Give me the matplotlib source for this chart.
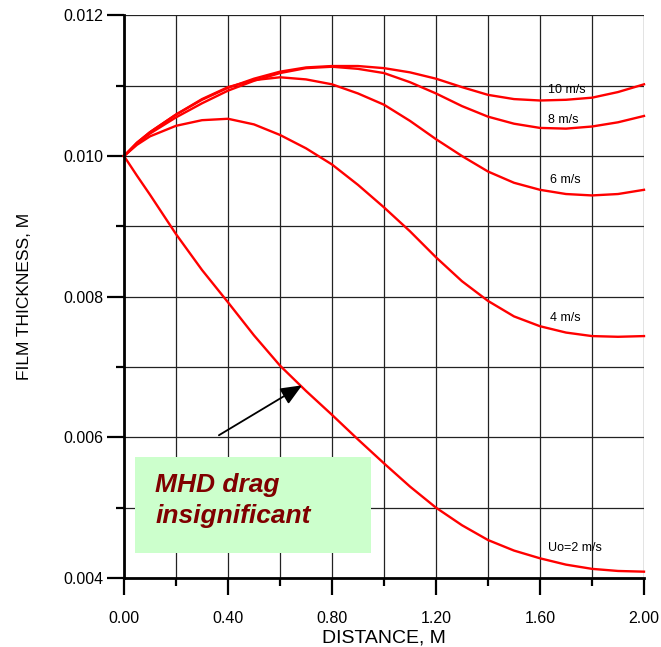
import matplotlib
matplotlib.use("Agg")
import matplotlib.pyplot as plt
from matplotlib.patches import Rectangle

plt.rcParams['font.family'] = ['Liberation Sans', 'DejaVu Sans']

# distance along the plate, M
dist = [0.0, 0.05, 0.1, 0.2, 0.3, 0.4, 0.5, 0.6, 0.7, 0.8, 0.9, 1.0,
        1.1, 1.2, 1.3, 1.4, 1.5, 1.6, 1.7, 1.8, 1.9, 2.0]

# film thickness, M, one list per inlet speed
h_10 = [0.01000, 0.01019, 0.01034, 0.01059, 0.01080, 0.01097, 0.01110, 0.01120, 0.01126, 0.01128, 0.01128,
        0.01125, 0.01119, 0.01110, 0.01098, 0.01087, 0.01081, 0.01079, 0.01080, 0.01083, 0.01091, 0.01102]
h_8 = [0.01000, 0.01018, 0.01032, 0.01055, 0.01075, 0.01093, 0.01107, 0.01118, 0.01125, 0.01127, 0.01124,
       0.01118, 0.01105, 0.01089, 0.01071, 0.01056, 0.01046, 0.01040, 0.01039, 0.01042, 0.01048, 0.01057]
h_6 = [0.01000, 0.01019, 0.01034, 0.01059, 0.01081, 0.01098, 0.01108, 0.01112, 0.01109, 0.01102, 0.01089,
       0.01073, 0.01050, 0.01024, 0.01000, 0.00978, 0.00962, 0.00952, 0.00946, 0.00944, 0.00946, 0.00952]
h_4 = [0.01000, 0.01016, 0.01028, 0.01043, 0.01051, 0.01053, 0.01045, 0.01030, 0.01011, 0.00988, 0.00959,
       0.00927, 0.00893, 0.00856, 0.00822, 0.00794, 0.00772, 0.00758, 0.00749, 0.00744, 0.00743, 0.00744]
h_2 = [0.01000, 0.00972, 0.00945, 0.00889, 0.00838, 0.00792, 0.00745, 0.00702, 0.00666, 0.00632, 0.00597,
       0.00563, 0.00530, 0.00500, 0.00475, 0.00454, 0.00439, 0.00428, 0.00419, 0.00413, 0.00410, 0.00409]

curves = [h_10, h_8, h_6, h_4, h_2]
curve_labels = ['10 m/s', '8 m/s', '6 m/s', '4 m/s', 'Uo=2 m/s']
label_pos = [(1.63, 0.01094), (1.63, 0.01051), (1.64, 0.00966), (1.64, 0.00770), (1.63, 0.00442)]

x_major = [0.0, 0.4, 0.8, 1.2, 1.6, 2.0]
x_minor = [0.2, 0.6, 1.0, 1.4, 1.8]
x_ticklabels = ['0.00', '0.40', '0.80', '1.20', '1.60', '2.00']
y_major = [0.004, 0.006, 0.008, 0.010, 0.012]
y_minor = [0.005, 0.007, 0.009, 0.011]
y_ticklabels = ['0.004', '0.006', '0.008', '0.010', '0.012']

fig = plt.figure(figsize=(6.61, 6.47), dpi=100)
ax = fig.add_axes([124 / 661, 1 - 578 / 647, 520 / 661, (578 - 15.4) / 647])

for h in curves:
    ax.plot(dist, h, color='#ff0000', lw=1.7, zorder=3, clip_on=False)

for lab, (lx, ly) in zip(curve_labels, label_pos):
    ax.text(lx, ly, lab, fontsize=9, va='center', ha='left', zorder=4)

ax.set_xlim(0, 2.0)
ax.set_ylim(0.004, 0.012)
ax.set_xticks(x_major)
ax.set_xticklabels(x_ticklabels)
ax.set_xticks(x_minor, minor=True)
ax.set_yticks(y_major)
ax.set_yticklabels(y_ticklabels)
ax.set_yticks(y_minor, minor=True)

ax.grid(which='both', color='#222222', lw=0.9, zorder=1)
ax.set_axisbelow(True)
ax.tick_params(which='major', direction='out', length=12.5, width=1.6, labelsize=11.5)
ax.tick_params(axis='x', which='major', pad=11)
ax.tick_params(axis='y', which='major', pad=2.5)
ax.tick_params(which='minor', direction='out', length=6, width=1.6)
for s in ['top', 'right']:
    ax.spines[s].set_visible(False)
for s in ['left', 'bottom']:
    ax.spines[s].set_linewidth(2)
    ax.spines[s].set_zorder(5)

ax.set_xlabel('DISTANCE, M', fontsize=14, labelpad=3)
ax.set_ylabel('FILM THICKNESS, M', fontsize=12.5, labelpad=22)

# note box with arrow
ax.add_patch(Rectangle((0.042, 0.00435), 0.908, 0.00137, facecolor='#ccffcc',
                       edgecolor='none', zorder=4))
ax.text(0.12, 0.00550, 'MHD drag\ninsignificant', color='#800000', fontsize=19,
        fontweight='bold', fontstyle='italic', va='top', ha='left',
        linespacing=1.42, zorder=5)
ax.annotate('', xy=(0.685, 0.00674), xytext=(0.365, 0.00603),
            arrowprops=dict(arrowstyle='-|>,head_length=1.3,head_width=0.55',
                            color='black', lw=1.3, shrinkA=0, shrinkB=0),
            zorder=5)

fig.savefig('out.png', dpi=100)
